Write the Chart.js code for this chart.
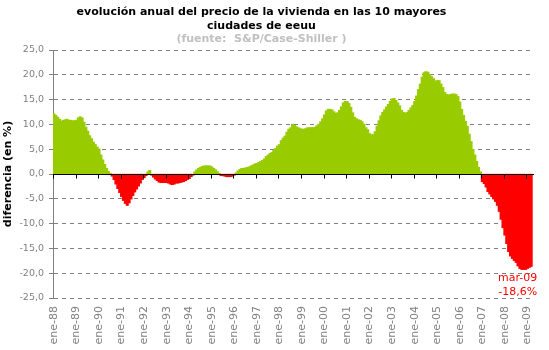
<!DOCTYPE html>
<html><head><meta charset="utf-8">
<script src="https://cdn.jsdelivr.net/npm/chart.js@4.4.1/dist/chart.umd.min.js"></script>
<style>html,body{margin:0;padding:0;background:#fff}#wrap{width:549px;height:350px;position:relative}</style>
</head><body><div id="wrap"><canvas id="c" width="549" height="350"></canvas></div>
<script>
const titleLines = ['evolución anual del precio de la vivienda en las 10 mayores', 'ciudades de eeuu'];
const subtitleText = '(fuente:  S&P/Case-Shiller )';
const yAxisTitle = 'diferencia (en %)';
const monthNames = ['ene','feb','mar','abr','may','jun','jul','ago','sep','oct','nov','dic'];
const years = ['88','89','90','91','92','93','94','95','96','97','98','99','00','01','02','03','04','05','06','07','08','09'];
const categoryCount = 256; // ene-88 .. abr-09
const categories = [];
years.forEach(yy => monthNames.forEach(m => categories.push(m + '-' + yy)));
categories.length = categoryCount;

// annual change (%), monthly, ene-88 .. mar-09
const values = [
  12.1, 11.8, 11.4, 11.0, 10.6, 10.8, 10.9, 11.0, 10.8, 10.8, 10.7, 10.7,   // 1988
  10.8, 11.3, 11.5, 11.3, 10.4, 9.4, 8.6, 7.7, 7.1, 6.4, 5.9, 5.4,          // 1989
  5.0, 3.8, 2.8, 1.9, 1.1, 0.5, 0.1, -0.4, -1.1, -2.0, -2.9, -3.7,          // 1990
  -4.5, -5.3, -5.9, -6.3, -5.8, -5.0, -4.3, -3.6, -3.0, -2.4, -1.8, -1.1,   // 1991
  -0.7, -0.3, 0.4, 0.7, -0.2, -0.6, -1.0, -1.3, -1.6, -1.7, -1.7, -1.7,     // 1992
  -1.7, -1.8, -2.0, -2.1, -2.0, -1.8, -1.8, -1.7, -1.6, -1.5, -1.3, -1.1,   // 1993
  -0.9, -0.5, -0.2, 0.4, 0.8, 1.1, 1.3, 1.5, 1.6, 1.6, 1.6, 1.6,            // 1994
  1.4, 1.1, 0.8, 0.4, 0.1, -0.3, -0.3, -0.4, -0.5, -0.5, -0.5, -0.4,        // 1995
  -0.2, 0.2, 0.6, 0.9, 1.1, 1.1, 1.2, 1.3, 1.4, 1.6, 1.8, 2.0,              // 1996
  2.1, 2.3, 2.5, 2.7, 3.0, 3.5, 3.8, 4.1, 4.3, 4.7, 5.1, 5.6,               // 1997
  5.9, 6.7, 7.2, 7.6, 8.4, 9.0, 9.3, 10.0, 9.8, 9.5, 9.3, 9.1,              // 1998
  9.0, 9.0, 9.1, 9.3, 9.3, 9.3, 9.3, 9.4, 9.7, 10.0, 10.5, 11.1,            // 1999
  11.9, 12.7, 13.0, 13.0, 12.9, 12.5, 12.2, 12.3, 12.8, 13.5, 14.3, 14.6,   // 2000
  14.6, 14.2, 13.4, 12.3, 11.4, 11.1, 10.9, 10.8, 10.5, 10.0, 9.3, 8.9,     // 2001
  8.1, 7.9, 7.9, 8.5, 9.6, 10.7, 11.7, 12.4, 12.9, 13.5, 14.0, 14.6,        // 2002
  15.1, 15.2, 14.8, 14.3, 13.7, 12.8, 12.4, 12.2, 12.4, 12.8, 13.3, 13.8,   // 2003
  14.6, 15.7, 17.0, 18.1, 19.5, 20.4, 20.6, 20.5, 20.0, 19.6, 19.2, 18.7,   // 2004
  18.8, 18.8, 18.1, 17.4, 16.4, 16.0, 15.9, 16.0, 16.1, 16.1, 16.0, 15.6,   // 2005
  14.5, 13.0, 11.8, 10.6, 9.6, 8.0, 6.5, 4.9, 3.8, 2.5, 1.3, 0.4,           // 2006
  -1.5, -1.9, -2.6, -3.5, -4.0, -4.5, -5.0, -5.5, -6.3, -7.5, -9.1, -10.8,  // 2007
  -12.3, -14.0, -15.6, -16.5, -17.0, -17.4, -17.8, -18.5, -19.0, -19.2, -19.2, -19.2, // 2008
  -19.0, -18.8, -18.6                                                       // 2009
];
const yTicks = [-25, -20, -15, -10, -5, 0, 5, 10, 15, 20, 25];
const lastLabel = ['mar-09', '-18,6%'];
const posColor = '#99CC00', negColor = '#FF0000';

const overlay = {
  id: 'overlay',
  afterDatasetsDraw(chart) {
    const {ctx, scales: {x, y}, chartArea: a} = chart;
    const y0 = Math.round(y.getPixelForValue(0)) + 0.5;
    ctx.save();
    ctx.strokeStyle = '#000'; ctx.lineWidth = 1;
    ctx.beginPath();
    ctx.moveTo(a.left, y0); ctx.lineTo(a.right, y0);
    const half = (x.getPixelForValue(1) - x.getPixelForValue(0)) / 2;
    for (let i = 0; i < categories.length; i += 12) {
      const px = Math.round(x.getPixelForValue(i) - half) + 0.5;
      ctx.moveTo(px, y0); ctx.lineTo(px, y0 + 4);
    }
    ctx.stroke();
    const li = values.length - 1;
    const lx = x.getPixelForValue(li), ly = y.getPixelForValue(values[li]);
    ctx.fillStyle = negColor; ctx.font = '11px "DejaVu Sans"';
    ctx.textAlign = 'right'; ctx.textBaseline = 'middle';
    ctx.fillText(lastLabel[0], lx + 6, ly + 12);
    ctx.fillText(lastLabel[1], lx + 6, ly + 26);
    ctx.restore();
  },
  afterDraw(chart) {
    const ctx = chart.ctx;
    ctx.save();
    ctx.textAlign = 'center'; ctx.textBaseline = 'alphabetic';
    ctx.font = 'bold 11px "DejaVu Sans"';
    ctx.fillStyle = '#000';
    ctx.fillText(titleLines[0], 261.5, 15);
    ctx.fillText(titleLines[1], 261.5, 29);
    ctx.fillStyle = '#C0C0C0';
    ctx.fillText(subtitleText, 261.5, 42);
    ctx.restore();
  }
};

new Chart(document.getElementById('c'), {
  type: 'bar',
  data: {
    labels: categories,
    datasets: [{
      data: values,
      backgroundColor: values.map(v => v >= 0 ? posColor : negColor),
      borderWidth: 0,
      inflateAmount: 0.6,
      barPercentage: 1,
      categoryPercentage: 1
    }]
  },
  options: {
    responsive: false,
    animation: false,
    layout: {padding: {top: 50, right: 15, left: 0, bottom: 0}},
    plugins: {legend: {display: false}, tooltip: {enabled: false}, title: {display: false}},
    scales: {
      x: {
        type: 'category',
        offset: true,
        grid: {display: false, drawTicks: false},
        border: {display: false},
        ticks: {
          autoSkip: false, minRotation: 90, maxRotation: 90, padding: 8,
          color: '#808080', font: {family: 'DejaVu Sans', size: 11},
          callback: (v, i) => (i % 12 === 0 ? categories[i] : null)
        },
        afterFit: s => { s.height = 52; }
      },
      y: {
        min: yTicks[0], max: yTicks[yTicks.length - 1],
        afterBuildTicks: s => { s.ticks = yTicks.map(v => ({value: v})); },
        ticks: {
          color: '#808080', font: {family: 'DejaVu Sans', size: 9.5}, padding: 5,
          callback: v => v.toFixed(1).replace('.', ',')
        },
        grid: {
          color: c => (c.tick && c.tick.value === 0 ? 'rgba(0,0,0,0)' : '#808080'),
          lineWidth: 1, drawTicks: true, tickLength: 4, tickColor: '#808080'
        },
        border: {display: true, color: '#808080', width: 1, dash: [4, 4]},
        title: {
          display: true, text: yAxisTitle, color: '#000',
          font: {family: 'DejaVu Sans', size: 11, weight: 'bold'},
          padding: {top: 2, bottom: 0}
        },
        afterFit: s => { s.width = 53; }
      }
    }
  },
  plugins: [overlay]
});
</script></body></html>
